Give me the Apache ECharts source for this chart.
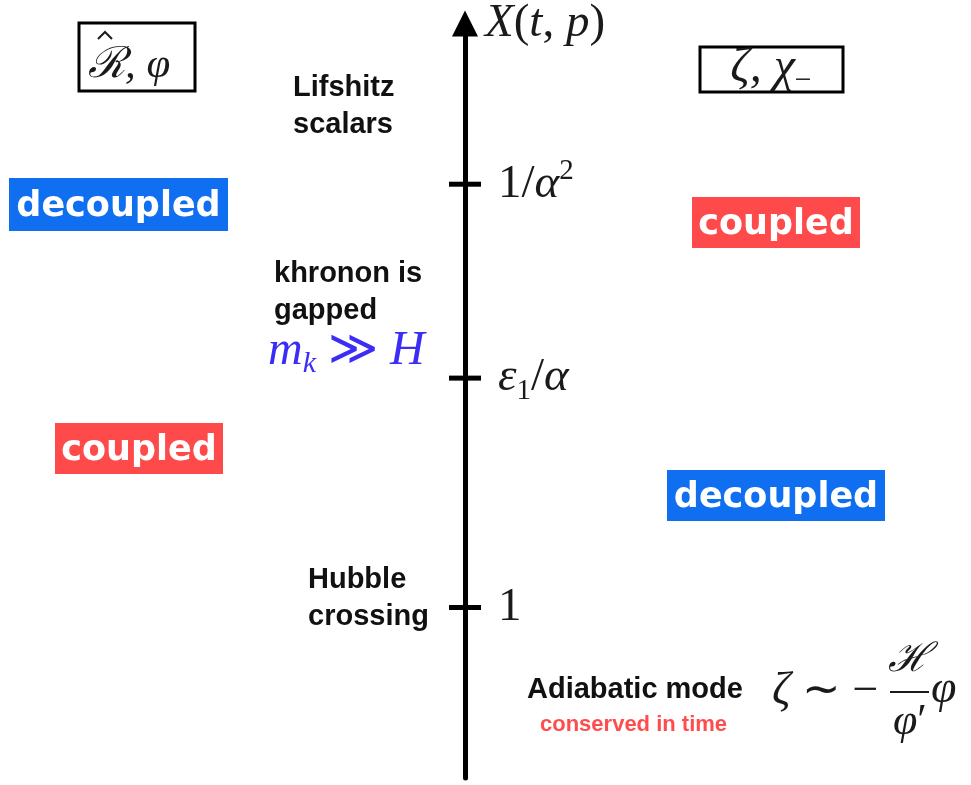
<!DOCTYPE html>
<html>
<head>
<meta charset="utf-8">
<title>X(t,p) regimes</title>
<script src="https://cdn.jsdelivr.net/npm/echarts@6/dist/echarts.min.js"></script>
<style>
  html, body { margin: 0; padding: 0; background: #fff; }
  #main { width: 971px; height: 785px; }
</style>
</head>
<body>
<div id="main"></div>
<script>
// positions of the ticks on the X(t,p) axis (0 = bottom of axis, 100 = top)
var levels = [22.6, 53.0, 78.7];
var tickLabels = ['{n|1}', '{i|ε}{sub|1}{n|/}{i|α}', '{n|1/}{i|α}{sup|2}'];
// region labels, top to bottom
var leftRegions = ['decoupled', 'coupled'];
var rightRegions = ['coupled', 'decoupled'];
var notes = ['Lifshitz\nscalars', 'khronon is\ngapped', 'Hubble\ncrossing'];

var BLUE = '#0f6ff0';
var RED = '#fe4a4a';
var INK = '#1a1a1a';
var MATH = 'Liberation Serif';

// rich styles for series / axis labels (color) and graphic texts (fill)
function mathStyles(size, col) {
  var sub = Math.round(size * 0.62);
  return {
    n: { fontFamily: MATH, fontSize: size, lineHeight: size + 8, color: col, fill: col, verticalAlign: 'middle' },
    i: { fontFamily: MATH, fontStyle: 'italic', fontSize: size, lineHeight: size + 8, color: col, fill: col, verticalAlign: 'middle' },
    sub: { fontFamily: MATH, fontSize: sub, lineHeight: sub + 2, color: col, fill: col, verticalAlign: 'bottom' },
    isub: { fontFamily: MATH, fontStyle: 'italic', fontSize: sub, lineHeight: sub + 2, color: col, fill: col, verticalAlign: 'bottom' },
    sup: { fontFamily: MATH, fontSize: sub, lineHeight: sub + 2, color: col, fill: col, verticalAlign: 'top' }
  };
}
var mathRich = mathStyles(47, INK);

function regionBox(label, color, x, y, w, h) {
  return {
    type: 'group',
    left: x, top: y,
    children: [
      { type: 'rect', shape: { x: 0, y: 0, width: w, height: h }, style: { fill: color } },
      {
        type: 'text', x: w / 2, y: h / 2 + 2,
        style: {
          text: label, fill: '#fff', align: 'center', verticalAlign: 'middle',
          font: 'bold 35px "DejaVu Sans"'
        }
      }
    ]
  };
}

function note(text, x, y) {
  return {
    type: 'text', x: x, y: y,
    style: {
      text: text, fill: '#111', align: 'left', verticalAlign: 'middle',
      font: 'bold 29px "Liberation Sans"', lineHeight: 37
    }
  };
}

function math(text, x, y, size, align, col) {
  return {
    type: 'text', x: x, y: y,
    style: { text: text, align: align, verticalAlign: 'middle', rich: mathStyles(size, col || INK) }
  };
}

var chart = echarts.init(document.getElementById('main'));

var option = {
  animation: false,
  grid: { left: 465, right: 0, top: 22, bottom: 7 },
  xAxis: { type: 'value', min: 0, max: 1, show: false },
  yAxis: {
    type: 'value', min: 0, max: 100,
    name: '{i|X}{n|(}{i|t}{n|, }{i|p}{n|)}',
    nameLocation: 'end', nameGap: 0,
    nameTextStyle: { align: 'left', verticalAlign: 'middle', padding: [0, 0, 0, 20], rich: mathRich },
    axisLine: {
      show: true, onZero: false,
      symbol: ['none', 'triangle'], symbolSize: [26, 26],
      lineStyle: { color: '#000', width: 5 }
    },
    axisTick: { show: false },
    axisLabel: { show: false },
    splitLine: { show: false }
  },
  series: [{
    type: 'scatter',
    clip: false,
    symbol: 'rect',
    symbolSize: [32, 5],
    itemStyle: { color: '#000', opacity: 1 },
    data: levels.map(function (v, i) { return { value: [0, v], name: tickLabels[i] }; }),
    label: {
      show: true, position: 'right', distance: 17, color: INK,
      formatter: function (p) { return p.name; },
      rich: mathRich
    }
  }],
  graphic: [
    // framed field labels
    {
      type: 'rect', shape: { x: 79, y: 23, width: 116, height: 68 },
      style: { fill: '#fff', stroke: '#000', lineWidth: 3 }
    },
    math('{i|ℛ, φ}', 88, 66, 43, 'left'),
    {
      type: 'polyline', shape: { points: [[98, 39], [105, 32], [112, 39]] },
      style: { stroke: INK, lineWidth: 2, fill: null }
    },
    {
      type: 'rect', shape: { x: 700, y: 47, width: 143, height: 45 },
      style: { fill: '#fff', stroke: '#000', lineWidth: 3 }
    },
    math('{i|ζ, χ}{sub|−}', 771, 68, 48, 'center'),
    // coupled / decoupled regions
    regionBox(leftRegions[0], BLUE, 9, 178, 219, 53),
    regionBox(leftRegions[1], RED, 55, 423, 168, 51),
    regionBox(rightRegions[0], RED, 692, 197, 168, 51),
    regionBox(rightRegions[1], BLUE, 667, 470, 218, 51),
    // annotations
    note(notes[0], 293, 106),
    note(notes[1], 274, 292),
    note(notes[2], 308, 598),
    math('{i|m}{isub|k}{n| ≫ }{i|H}', 268, 351, 48, 'left', '#3b2df5'),
    {
      type: 'text', x: 527, y: 690,
      style: { text: 'Adiabatic mode', fill: '#111', align: 'left', verticalAlign: 'middle', font: 'bold 29px "Liberation Sans"' }
    },
    {
      type: 'text', x: 540, y: 725,
      style: { text: 'conserved in time', fill: '#ff4d4d', align: 'left', verticalAlign: 'middle', font: 'bold 22px "Liberation Sans"' }
    },
    // zeta ~ -(H/phi') phi
    math('{i|ζ}{n| ∼ −}', 772, 692, 46, 'left'),
    {
      type: 'line', shape: { x1: 890, y1: 692, x2: 929, y2: 692 },
      style: { stroke: INK, lineWidth: 2 }
    },
    math('{i|ℋ}', 909, 660, 40, 'center'),
    math('{i|φ}{n|′}', 910, 722, 44, 'center'),
    math('{i|φ}', 931, 690, 46, 'left')
  ]
};

chart.setOption(option);
</script>
</body>
</html>
